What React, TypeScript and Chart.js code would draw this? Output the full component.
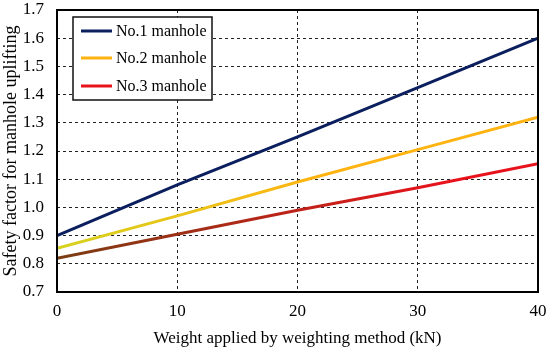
import React, { useEffect, useRef } from "react";
import { Chart, registerables } from "chart.js";

Chart.register(...registerables);

const weights = [0, 10, 20, 30, 40];
const manhole1 = [0.9, 1.08, 1.25, 1.425, 1.6];
const manhole2 = [0.855, 0.97, 1.09, 1.205, 1.32];
const manhole3 = [0.82, 0.905, 0.99, 1.07, 1.155];
const seriesNames = ["No.1 manhole", "No.2 manhole", "No.3 manhole"];
const seriesColors = ["#0b1f5e", "#ffb310", "#e8121c"];
const yTicks = [0.7, 0.8, 0.9, 1.0, 1.1, 1.2, 1.3, 1.4, 1.5, 1.6, 1.7];
const xTicks = [0, 10, 20, 30, 40];

const FONT = "'Liberation Serif', 'Times New Roman', serif";

function gradientColor(ctx: any, startColor: string, endColor: string, endFrac: number) {
  const chart = ctx.chart;
  const area = chart.chartArea;
  if (!area) return endColor;
  const g = chart.ctx.createLinearGradient(area.left, 0, area.right, 0);
  g.addColorStop(0, startColor);
  g.addColorStop(endFrac, endColor);
  g.addColorStop(1, endColor);
  return g;
}

const boxAndLegend = {
  id: "boxAndLegend",
  afterDatasetsDraw(chart: any) {
    const { ctx, chartArea: a } = chart;
    ctx.save();
    ctx.strokeStyle = "#000";
    ctx.lineWidth = 2;
    ctx.strokeRect(a.left, a.top, a.right - a.left, a.bottom - a.top);
    // legend
    const lx = 73, ly = 17, lw = 139, lh = 83;
    ctx.fillStyle = "#fff";
    ctx.fillRect(lx, ly, lw, lh);
    ctx.lineWidth = 1.5;
    ctx.strokeStyle = "#111";
    ctx.strokeRect(lx, ly, lw, lh);
    const rows = [31, 58, 86];
    ctx.font = `16px ${FONT}`;
    ctx.textBaseline = "middle";
    seriesNames.forEach((n, i) => {
      ctx.strokeStyle = seriesColors[i];
      ctx.lineWidth = 3;
      ctx.beginPath();
      ctx.moveTo(81, rows[i]);
      ctx.lineTo(112, rows[i]);
      ctx.stroke();
      ctx.fillStyle = "#000";
      ctx.fillText(n, 116, rows[i] + 1);
    });
    ctx.restore();
  },
};

export default function App() {
  const ref = useRef<HTMLCanvasElement>(null);
  useEffect(() => {
    document.body.style.margin = "0";
    const gridColor = (n: number) => (c: any) =>
      c.index === 0 || c.index === n - 1 ? "transparent" : "#222";
    const chart = new Chart(ref.current!, {
      type: "line",
      data: {
        datasets: [
          {
            label: seriesNames[0],
            data: weights.map((w, i) => ({ x: w, y: manhole1[i] })),
            borderColor: seriesColors[0],
            borderWidth: 3,
            pointRadius: 0,
          },
          {
            label: seriesNames[1],
            data: weights.map((w, i) => ({ x: w, y: manhole2[i] })),
            borderColor: (c: any) => gradientColor(c, "#d6d21e", seriesColors[1], 0.55),
            borderWidth: 3,
            pointRadius: 0,
          },
          {
            label: seriesNames[2],
            data: weights.map((w, i) => ({ x: w, y: manhole3[i] })),
            borderColor: (c: any) => gradientColor(c, "#7a3d12", seriesColors[2], 0.8),
            borderWidth: 3,
            pointRadius: 0,
          },
        ],
      },
      options: {
        animation: false,
        responsive: false,
        layout: { padding: { top: 10, right: 12, left: 0, bottom: 0 } },
        plugins: { legend: { display: false }, tooltip: { enabled: false } },
        scales: {
          x: {
            type: "linear",
            min: 0,
            max: 40,
            afterBuildTicks: (s: any) => {
              s.ticks = xTicks.map((v) => ({ value: v }));
            },
            afterFit: (s: any) => {
              s.height = 61;
              s.paddingLeft = 0;
              s.paddingRight = 0;
            },
            border: { display: false, dash: [3, 3] },
            grid: { drawTicks: false, color: gridColor(xTicks.length), lineWidth: 1 },
            ticks: { color: "#000", font: { family: FONT, size: 17 }, padding: 9, maxRotation: 0 },
            title: {
              display: true,
              text: "Weight applied by weighting method (kN)",
              color: "#000",
              font: { family: FONT, size: 17 },
              padding: { top: 3 },
            },
          },
          y: {
            min: 0.7,
            max: 1.7,
            afterBuildTicks: (s: any) => {
              s.ticks = yTicks.map((v) => ({ value: v }));
            },
            afterFit: (s: any) => {
              s.width = 57;
              s.paddingTop = 0;
              s.paddingBottom = 0;
            },
            border: { display: false, dash: [3, 3] },
            grid: { drawTicks: false, color: gridColor(yTicks.length), lineWidth: 1 },
            ticks: {
              color: "#000",
              font: { family: FONT, size: 17 },
              padding: 13,
              callback: (v: any) => Number(v).toFixed(1),
            },
            title: {
              display: true,
              text: "Safety factor for manhole uplifting",
              color: "#000",
              font: { family: FONT, size: 18 },
              padding: { bottom: 0, top: 0 },
            },
          },
        },
      } as any,
      plugins: [boxAndLegend],
    });
    return () => chart.destroy();
  }, []);
  return (
    <div style={{ position: "fixed", left: 0, top: 0, width: 550, height: 353, background: "#fff" }}>
      <canvas ref={ref} width={550} height={353} style={{ width: 550, height: 353 }} />
    </div>
  );
}
